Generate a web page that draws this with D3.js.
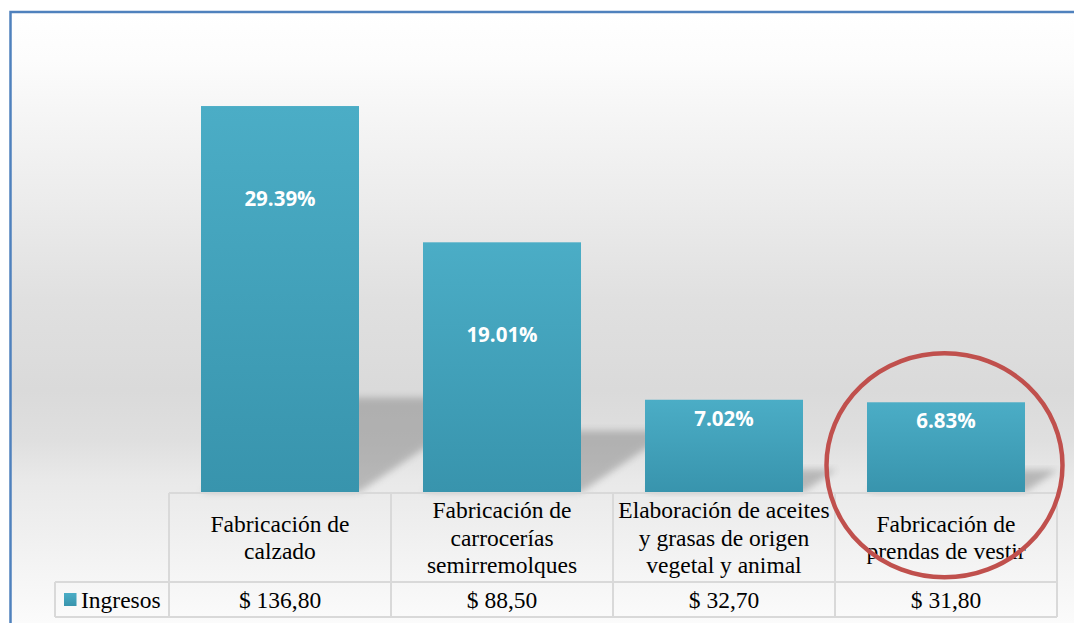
<!DOCTYPE html>
<html><head><meta charset="utf-8">
<script src="https://cdn.jsdelivr.net/npm/d3@7"></script>
<style>html,body{margin:0;padding:0;background:#fff;overflow:hidden}</style>
</head><body>
<script>
const categories = [
  ["Fabricación de","calzado"],
  ["Fabricación de","carrocerías","semirremolques"],
  ["Elaboración de aceites","y grasas de origen","vegetal y animal"],
  ["Fabricación de","prendas de vestir"]
];
const ingresos = [136.80, 88.50, 32.70, 31.80];
const ingresosLabels = ["$ 136,80","$ 88,50","$ 32,70","$ 31,80"];
const shares = ["29.39%","19.01%","7.02%","6.83%"];
const seriesName = "Ingresos";

const W = 1074, H = 623;
const svg = d3.select("body").append("svg").attr("width", W).attr("height", H);
const defs = svg.append("defs");

const bg = defs.append("linearGradient").attr("id","bg").attr("gradientUnits","userSpaceOnUse")
  .attr("x1",0).attr("x2",0).attr("y1",12).attr("y2",623);
[[12,"#ffffff"],[60,"#fcfcfc"],[110,"#f6f6f6"],[200,"#ececec"],[300,"#e0e0e0"],[390,"#dadada"],
 [440,"#dfdfdf"],[480,"#e9e9e9"],[520,"#eeeeee"],[623,"#fbfbfb"]].forEach(([y,c])=>{
  bg.append("stop").attr("offset",((y-12)/(623-12))).attr("stop-color",c);
});
const barG = defs.append("linearGradient").attr("id","barg").attr("x1",0).attr("x2",0).attr("y1",0).attr("y2",1);
barG.append("stop").attr("offset",0).attr("stop-color","#4badc6");
barG.append("stop").attr("offset",1).attr("stop-color","#3894ad");
defs.append("filter").attr("id","blur").attr("x","-20%").attr("y","-20%").attr("width","140%").attr("height","140%")
  .append("feGaussianBlur").attr("stdDeviation",3.5);

// chart area
svg.append("rect").attr("x",10.5).attr("y",12).attr("width",W).attr("height",H)
  .attr("fill","url(#bg)").attr("stroke","#4f81bd").attr("stroke-width",2.5);

const base = 492, plotTop = 68.8;
const x = d3.scaleBand().domain(d3.range(categories.length)).range([169,1057]).paddingInner(0).paddingOuter(0);
const y = d3.scaleLinear().domain([0,150]).range([base, plotTop]);
const bw = 158;
const bx = i => x(i) + (x.bandwidth()-bw)/2;

// shadows
svg.append("g").selectAll("polygon").data(ingresos).join("polygon")
  .attr("points",(d,i)=>{
    const h = base - y(d), r = 0.245*h, dx = 1.49*r, x0 = bx(i), x1 = x0 + bw;
    return [[x0,base],[x1,base],[x1+dx,base-r],[x0+dx,base-r]].map(p=>p.join(",")).join(" ");
  })
  .attr("fill","#7a7a7a").attr("opacity",0.45).attr("filter","url(#blur)");

// bars
svg.append("g").selectAll("rect").data(ingresos).join("rect")
  .attr("x",(d,i)=>bx(i)).attr("y",d=>y(d)).attr("width",bw).attr("height",d=>base-y(d))
  .attr("fill","url(#barg)");

// labels
svg.append("g").selectAll("text").data(ingresos).join("text")
  .attr("x",(d,i)=>x(i)+x.bandwidth()/2)
  .attr("y",d=>{const h = base-y(d); return y(d) + (h>150 ? 92.5 : 0.21*h);})
  .attr("dy","0.35em").attr("text-anchor","middle")
  .attr("font-family","'Open Sans', 'Noto Sans', sans-serif").attr("font-weight","bold").attr("font-size",20.5)
  .attr("fill","#fff").text((d,i)=>shares[i]);

// data table
const hdrTop = 493, rowMid = 582, rowBot = 617, legLeft = 55;
const grid = svg.append("g").attr("stroke","#d9d9d9").attr("stroke-width",2).attr("fill","none");
grid.append("line").attr("x1",x.range()[0]).attr("x2",x.range()[1]).attr("y1",hdrTop).attr("y2",hdrTop);
grid.append("line").attr("x1",legLeft).attr("x2",x.range()[1]).attr("y1",rowMid).attr("y2",rowMid);
grid.append("line").attr("x1",legLeft).attr("x2",x.range()[1]).attr("y1",rowBot).attr("y2",rowBot);
grid.append("line").attr("x1",legLeft).attr("x2",legLeft).attr("y1",rowMid).attr("y2",rowBot);
d3.range(categories.length+1).forEach(i=>{
  const xx = i<categories.length ? x(i) : x.range()[1];
  grid.append("line").attr("x1",xx).attr("x2",xx).attr("y1",hdrTop).attr("y2",rowBot);
});

const fs = 23.5, lh = 27.5;
const serif = "Liberation Serif, Times New Roman, serif";
const hdr = svg.append("g").style("font-family",serif).attr("font-size",fs).attr("fill","#000").attr("text-anchor","middle");
categories.forEach((lines,i)=>{
  const cy = (hdrTop+rowMid)/2;
  lines.forEach((t,k)=>{
    hdr.append("text").attr("x",x(i)+x.bandwidth()/2)
      .attr("y",cy + (k-(lines.length-1)/2)*lh).attr("dy","0.35em").text(t);
  });
});
svg.append("g").style("font-family",serif).attr("font-size",fs).attr("fill","#000").attr("text-anchor","middle")
  .selectAll("text").data(ingresosLabels).join("text")
  .attr("x",(d,i)=>x(i)+x.bandwidth()/2).attr("y",(rowMid+rowBot)/2).attr("dy","0.35em").text(d=>d);

// legend key
svg.append("rect").attr("x",64).attr("y",593).attr("width",12.5).attr("height",13).attr("fill","url(#barg)");
svg.append("text").attr("x",81).attr("y",(rowMid+rowBot)/2).attr("dy","0.35em")
  .style("font-family",serif).attr("font-size",fs).attr("fill","#000").text(seriesName);

// annotation circle around last category
const last = categories.length-1;
svg.append("ellipse").attr("cx",x(last)+x.bandwidth()/2-1.5).attr("cy",y(ingresos[last]) + 63)
  .attr("rx",118).attr("ry",112).attr("fill","none").attr("stroke","#c0504d").attr("stroke-width",4.5);
</script>
</body></html>
